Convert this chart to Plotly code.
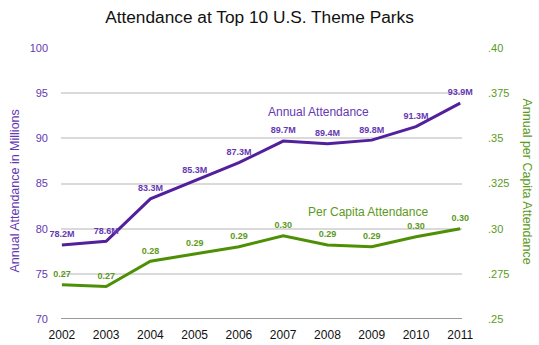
import plotly.graph_objects as go

years = [2002, 2003, 2004, 2005, 2006, 2007, 2008, 2009, 2010, 2011]
annual_millions = [78.2, 78.6, 83.3, 85.3, 87.3, 89.7, 89.4, 89.8, 91.3, 93.9]
per_capita = [0.269, 0.268, 0.282, 0.286, 0.290, 0.296, 0.291, 0.290, 0.2955, 0.300]

left_ticks = [70, 75, 80, 85, 90, 95, 100]
right_ticks = [0.25, 0.275, 0.30, 0.325, 0.35, 0.375, 0.40]
right_tick_text = [".25", ".275", ".30", ".325", ".35", ".375", ".40"]

PURPLE = "#52209c"
PURPLE_TXT = "#6538b3"
GREEN = "#4e9005"
GREEN_TXT = "#5c9a1c"
FONT = "Liberation Sans, Arial, sans-serif"

fig = go.Figure()

# invisible markers push the value labels a little above each point
fig.add_trace(go.Scatter(
    x=years, y=annual_millions, mode="lines+markers+text",
    line=dict(color=PURPLE, width=3),
    marker=dict(size=7, opacity=0),
    text=[f"{v:.1f}M" for v in annual_millions],
    textposition="top center",
    textfont=dict(family=FONT, size=9, color=PURPLE_TXT, weight="bold"),
    cliponaxis=False, showlegend=False, yaxis="y",
))

fig.add_trace(go.Scatter(
    x=years, y=per_capita, mode="lines+markers+text",
    line=dict(color=GREEN, width=3),
    marker=dict(size=7, opacity=0),
    text=[f"{v:.2f}" for v in per_capita],
    textposition="top center",
    textfont=dict(family=FONT, size=9, color=GREEN_TXT, weight="bold"),
    cliponaxis=False, showlegend=False, yaxis="y2",
))

fig.update_layout(
    width=539, height=345,
    margin=dict(l=61, r=77, t=48, b=26),
    paper_bgcolor="white", plot_bgcolor="white",
    font=dict(family=FONT),
    title=dict(text="Attendance at Top 10 U.S. Theme Parks",
               x=0.4814, xanchor="center", y=0.952, yanchor="middle",
               font=dict(family=FONT, size=17.3, color="#111111")),
    xaxis=dict(
        range=[2001.98, 2011.04], tickmode="array", tickvals=years,
        ticktext=[str(y) for y in years],
        tickfont=dict(family=FONT, size=12, color="#111111"),
        showgrid=False, zeroline=False, showline=False, ticks="",
        ticklabelstandoff=7, automargin=False,
    ),
    yaxis=dict(
        range=[70, 100], tickmode="array", tickvals=left_ticks,
        ticktext=[str(t) for t in left_ticks],
        tickfont=dict(family=FONT, size=11, color=PURPLE_TXT),
        showgrid=True, gridcolor="#dadada", gridwidth=2,
        zeroline=False, showline=False, ticks="",
        ticklabelstandoff=12, automargin=False,
    ),
    yaxis2=dict(
        range=[0.25, 0.40], overlaying="y", side="right",
        tickmode="array", tickvals=right_ticks, ticktext=right_tick_text,
        tickfont=dict(family=FONT, size=11, color=GREEN_TXT),
        showgrid=False, zeroline=False, showline=False, ticks="",
        ticklabelstandoff=25, automargin=False,
    ),
    shapes=[dict(type="line", xref="paper", yref="y", x0=0, x1=1, y0=70, y1=70,
                 line=dict(color="#9a9a9a", width=2))],
    annotations=[
        dict(text="Annual Attendance in Millions", xref="paper", yref="paper",
             x=0.0, xshift=-56, y=0.5, yshift=-8, textangle=-90, showarrow=False,
             font=dict(family=FONT, size=12.5, color=PURPLE_TXT)),
        dict(text="Annual per Capita Attendance", xref="paper", yref="paper",
             x=1.0, xshift=74, y=0.5, yshift=2, textangle=90, showarrow=False,
             font=dict(family=FONT, size=12.5, color=GREEN_TXT)),
        dict(text="Annual Attendance", xref="x", yref="y", x=2007.8, y=92.9,
             showarrow=False, font=dict(family=FONT, size=12, color=PURPLE_TXT)),
        dict(text="Per Capita Attendance", xref="x", yref="y", x=2008.92, y=81.8,
             showarrow=False, font=dict(family=FONT, size=12, color=GREEN_TXT)),
    ],
)

fig.write_html("out.html")
